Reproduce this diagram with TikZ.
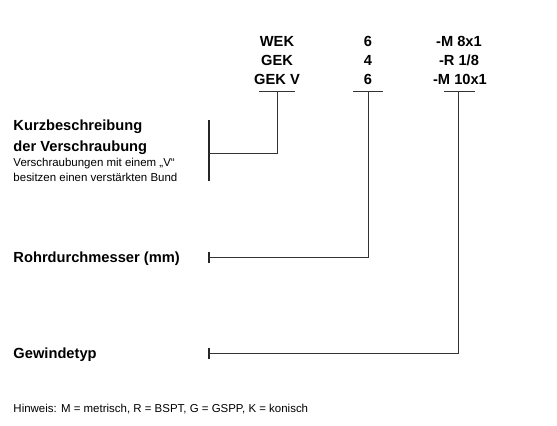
\documentclass[tikz,border=0pt]{standalone}
\usepackage{fontspec}
\setmainfont{Liberation Sans}

\tikzset{every picture/.style={line width=0.75pt}}
\tikzset{
  code/.style={font=\fontsize{11}{13}\selectfont\bfseries, inner sep=0pt, anchor=base},
  head/.style={font=\fontsize{11}{13}\selectfont\bfseries, inner sep=0pt, anchor=base west},
  note/.style={font=\fontsize{8.6}{10}\selectfont, inner sep=0pt, anchor=base west},
  lead/.style={draw=black!80, line width=0.75pt},
  bar/.style={draw=black!85, line width=1.3pt}
}

\begin{document}
\begin{tikzpicture}[x=0.75pt,y=0.75pt,yscale=-1,xscale=1]
\path (0,0) rectangle (557,425); %set diagram size

% Text Node
\draw (277,46.7) node [code] (wek) {WEK};
% Text Node
\draw (277,65.7) node [code] (gek) {GEK};
% Text Node
\draw (277,84.5) node [code] (gekv) {GEK V};
% Text Node
\draw (368,46.7) node [code] (da) {6};
% Text Node
\draw (368,65.7) node [code] (db) {4};
% Text Node
\draw (368,84.5) node [code] (dc) {6};
% Text Node
\draw (459,46.7) node [code] (ga) {-M 8x1};
% Text Node
\draw (459,65.7) node [code] (gb) {-R 1/8};
% Text Node
\draw (460,84.5) node [code] (gc) {-M 10x1};

% Text Node
\draw (13,130.5) node [head] (kurz) {Kurzbeschreibung};
% Text Node
\draw (13,151) node [head] (kurzb) {der Verschraubung};
% Text Node
\draw (13,166) node [note] (kurzc) {Verschraubungen mit einem „V“};
% Text Node
\draw (13,181) node [note] (kurzd) {besitzen einen verstärkten Bund};
% Text Node
\draw (13,262) node [head] (rohr) {Rohrdurchmesser (mm)};
% Text Node
\draw (13,358) node [head] (gew) {Gewindetyp};
% Text Node
\draw (13,412) node [note] (hinw) {Hinweis: M = metrisch, R = BSPT, G = GSPP, K = konisch};

% underlines of the columns
\coordinate (u1l) at (259,91); \coordinate (u1) at (277,91); \coordinate (u1r) at (295,91);
\coordinate (u2l) at (353,91); \coordinate (u2) at (368,91); \coordinate (u2r) at (383,91);
\coordinate (u3l) at (444,91); \coordinate (u3) at (458,91); \coordinate (u3r) at (475,91);
\draw [lead] (u1l) -- (u1r);
\draw [lead] (u2l) -- (u2r);
\draw [lead] (u3l) -- (u3r);

% brackets at the labels
\coordinate (k1) at (209,153); \coordinate (k1t) at (209,120); \coordinate (k1b) at (209,181);
\coordinate (r1) at (209,257); \coordinate (r1t) at (209,252); \coordinate (r1b) at (209,263);
\coordinate (g1) at (209,353); \coordinate (g1t) at (209,348); \coordinate (g1b) at (209,359);
\draw [bar] (k1t) -- (k1b);
\draw [bar] (r1t) -- (r1b);
\draw [bar] (g1t) -- (g1b);

% leader lines
\draw [lead] (u1) |- (k1);
\draw [lead] (u2) |- (r1);
\draw [lead] (u3) |- (g1);

\end{tikzpicture}
\end{document}
